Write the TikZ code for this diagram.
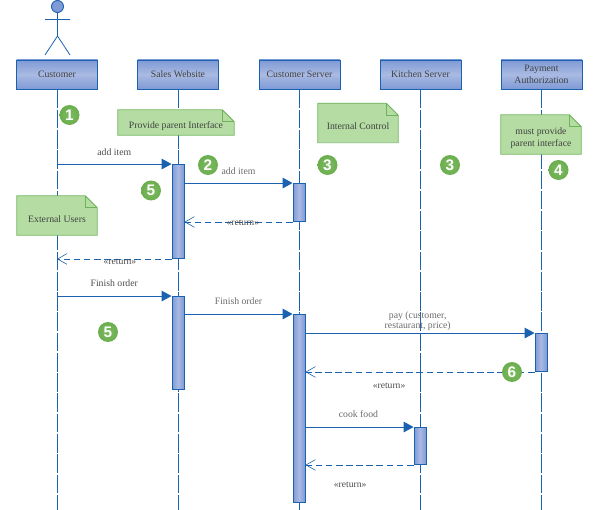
\documentclass[tikz,border=0pt]{standalone}
\usepackage{fontspec}
\setmainfont{Liberation Serif}
\newfontfamily\digitfont{Liberation Sans}
\usetikzlibrary{arrows.meta,calc}
\definecolor{umlblue}{HTML}{1A62B0}
\definecolor{boxdark}{HTML}{7F9AD6}
\definecolor{boxlight}{HTML}{A9BAE2}
\definecolor{notegreen}{HTML}{B5DDA3}
\definecolor{noteedge}{HTML}{6DB35A}
\definecolor{badgegreen}{HTML}{6BAE4E}
\definecolor{badgelight}{HTML}{7DBB62}
\definecolor{msggray}{HTML}{6A6A6A}
\tikzset{
  headbox/.style={draw=umlblue, line width=0.7pt, top color=boxdark, bottom color=boxdark, middle color=boxlight,
    minimum width=60.75pt, minimum height=21.75pt, inner sep=0pt, align=center, text=black!75,
    font=\fontsize{7.3}{8.6}\selectfont},
  actbar/.style={draw=umlblue, line width=0.7pt, left color=boxdark, right color=boxdark, middle color=boxlight,
    minimum width=9pt, inner sep=0pt},
  lifeline/.style={draw=umlblue, line width=0.65pt, dash pattern=on 14pt off 1.2pt},
  notebox/.style={fill=notegreen, inner sep=0pt, align=center, text=black!75,
    font=\fontsize{7.3}{8.6}\selectfont},
  badge/.style={circle, inner color=badgelight, outer color=badgegreen, minimum size=15pt, inner sep=0pt, text=white,
    font=\digitfont\bfseries\fontsize{11.5}{11.5}\selectfont},
  msg/.style={draw=umlblue, line width=0.7pt, -{Triangle[length=7.5pt,width=8pt]}},
  ret/.style={draw=umlblue, line width=0.7pt, dash pattern=on 5pt off 2.6pt, -{Straight Barb[length=7pt,width=8pt,line width=0.45pt]}},
  msglabel/.style={text=msggray, inner sep=0pt, align=center, font=\fontsize{7.3}{8}\selectfont},
  retlabel/.style={text=black!70, inner sep=0pt, font=\fontsize{7.2}{8}\selectfont},
}
% strut that lowers the text of a note
\newcommand{\notedrop}{\rule{0pt}{10.5pt}}
% note outline with the folded corner, drawn over its filled node
\newcommand{\foldnote}[1]{
  \fill[white] (#1.north east) -- ($(#1.north east)+(-12,-0.5)$) -- ($(#1.north east)+(0.5,12)$) -- cycle;
  \draw[noteedge, line width=0.7pt] (#1.north west) -- ($(#1.north east)+(-12,0)$) -- ($(#1.north east)+(0,12)$)
    -- (#1.south east) -- (#1.south west) -- cycle;
  \draw[noteedge, line width=0.5pt] ($(#1.north east)+(-12,0)$) -- ($(#1.north east)+(-12,12)$) -- ($(#1.north east)+(0,12)$);
}
\begin{document}
\begin{tikzpicture}[x=0.75pt, y=-0.75pt]
\useasboundingbox (0,0) rectangle (597,510);
\coordinate (bottom) at (0,510);
% actor
\node[circle, draw=umlblue, fill=boxdark, line width=0.7pt, minimum size=9pt, inner sep=0pt] (head) at (57.5,6.5) {};
\coordinate (neck) at (57.5,36);
\coordinate (armL) at (45,19.5);
\coordinate (armR) at (70,19.5);
\coordinate (legL) at (45,55);
\coordinate (legR) at (70,55);
\draw[umlblue, line width=0.6pt] (head) -- (neck) (armL) -- (armR) (legL) -- (neck) -- (legR);
% lifeline heads
\node[headbox] (customer) at (57,74.5) {Customer};
\node[headbox] (sales) at (178,74.5) {Sales Website};
\node[headbox] (server) at (299.5,74.5) {Customer Server};
\node[headbox] (kitchen) at (420.5,74.5) {Kitchen Server};
\node[headbox] (payment) at (541.5,74.5) {Payment\\Authorization};
\foreach \who in {customer,sales,server,kitchen,payment}
  \draw[lifeline] (\who.south) -- (\who.south |- bottom);
% notes
\node[notebox, minimum width=87pt, minimum height=18.75pt] (noteparent) at (176,122.5) {\notedrop Provide parent Interface};
\node[notebox, minimum width=60pt, minimum height=29.25pt] (noteext) at (57,215.5) {\notedrop External Users};
\node[notebox, minimum width=60pt, minimum height=29.25pt] (noteint) at (358,123) {\notedrop Internal Control};
\node[notebox, minimum width=60pt, minimum height=29.25pt] (notepay) at (541,134.5) {\notedrop must provide\\parent interface};
\foldnote{noteparent}
\foldnote{noteext}
\foldnote{noteint}
\foldnote{notepay}
% activation bars
\node[actbar, minimum height=70.5pt] (salesbarA) at (178,211.5) {};
\node[actbar, minimum height=28.5pt] (serverbarA) at (299,202.5) {};
\node[actbar, minimum height=69.75pt] (salesbarB) at (178,343) {};
\node[actbar, minimum height=141pt] (serverbarB) at (299,408.5) {};
\node[actbar, minimum height=28.5pt] (paybar) at (541,352.5) {};
\node[actbar, minimum height=27.75pt] (kitchenbar) at (420,446) {};
% messages
\draw[msg] (customer.south |- salesbarA.north) -- node[msglabel, text=black!70, pos=0.5, yshift=9pt] {add item} (salesbarA.north west);
\draw[msg] (salesbarA.east |- serverbarA.north) -- node[msglabel, pos=0.5, yshift=9pt] {add item} (serverbarA.north west);
\draw[ret] (serverbarA.south west) -- node[retlabel, pos=0.46, yshift=-0.5pt] {«return»} (salesbarA.east |- serverbarA.south);
\draw[ret] (salesbarA.south west) -- node[retlabel, pos=0.45, yshift=-2.5pt] {«return»} (customer.south |- salesbarA.south);
\draw[msg] (customer.south |- salesbarB.north) -- node[msglabel, text=black!70, pos=0.5, yshift=9.5pt] {Finish order} (salesbarB.north west);
\draw[msg] (salesbarB.east |- serverbarB.north) -- node[msglabel, pos=0.5, yshift=9.5pt] {Finish order} (serverbarB.north west);
\draw[msg] (serverbarB.east |- paybar.north) -- node[msglabel, pos=0.49, yshift=9pt] {pay (customer,\\restaurant, price)} (paybar.north west);
\draw[ret] (paybar.south west) -- node[retlabel, pos=0.635, yshift=-10.5pt] {«return»} (serverbarB.east |- paybar.south);
\draw[msg] (serverbarB.east |- kitchenbar.north) -- node[msglabel, pos=0.49, yshift=9.5pt] {cook food} (kitchenbar.north west);
\draw[ret] (kitchenbar.south west) -- node[retlabel, pos=0.587, yshift=-15pt] {«return»} (serverbarB.east |- kitchenbar.south);
% badges
\node[badge] (badgeA) at (69.5,115) {1};
\node[badge] (badgeB) at (208,165) {2};
\node[badge] (badgeC) at (151,190.5) {5};
\node[badge] (badgeD) at (327.5,165) {3};
\node[badge] (badgeE) at (450,165) {3};
\node[badge] (badgeF) at (558.5,170) {4};
\node[badge] (badgeG) at (108,332) {5};
\node[badge] (badgeH) at (512,372) {6};
\end{tikzpicture}
\end{document}
